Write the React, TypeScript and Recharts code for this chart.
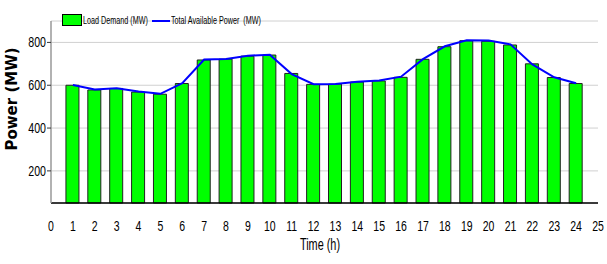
import React from "react";
import { ComposedChart, Bar, Line, XAxis, YAxis, CartesianGrid, Legend } from "recharts";

const hours = [1, 2, 3, 4, 5, 6, 7, 8, 9, 10, 11, 12, 13, 14, 15, 16, 17, 18, 19, 20, 21, 22, 23, 24];
const loadDemand = [600, 578, 585, 568, 558, 608, 718, 722, 736, 741, 655, 604, 605, 615, 620, 637, 721, 780, 808, 805, 788, 700, 636, 608];
const totalPower = [601, 580, 586, 571, 560, 610, 720, 723, 738, 742, 652, 605, 606, 616, 622, 640, 722, 782, 810, 809, 791, 697, 637, 609];
const xTicks = [0, 1, 2, 3, 4, 5, 6, 7, 8, 9, 10, 11, 12, 13, 14, 15, 16, 17, 18, 19, 20, 21, 22, 23, 24, 25];
const yTicks = [200, 400, 600, 800];

const data = hours.map((h, i) => ({ hour: h, load: loadDemand[i], total: totalPower[i] }));

const FONT = "'Liberation Sans', Arial, sans-serif";

const XTick = (props: any) => {
  const { x, y, payload } = props;
  return (
    <text
      transform={`translate(${x},${y + 20}) scale(0.75,1)`}
      textAnchor="middle"
      fontFamily={FONT}
      fontSize={14}
      fill="#000"
    >
      {payload.value}
    </text>
  );
};

const YTick = (props: any) => {
  const { x, y, payload } = props;
  return (
    <text
      transform={`translate(${x + 1},${y + 5}) scale(0.76,1)`}
      textAnchor="end"
      fontFamily={FONT}
      fontSize={14}
      fill="#000"
    >
      {payload.value}
    </text>
  );
};

const Condensed = ({ w, text, scale }: { w: number; text: string; scale: number }) => (
  <div style={{ width: w, overflow: "visible", whiteSpace: "nowrap" }}>
    <span style={{ display: "inline-block", transform: `scaleX(${scale})`, transformOrigin: "left center" }}>{text}</span>
  </div>
);

const LegendContent = () => (
  <div style={{ position: "relative", width: 210, height: 12, fontFamily: FONT, fontSize: 10, color: "#000", lineHeight: "12px" }}>
    <div style={{ position: "absolute", left: 0, top: 0, width: 18, height: 10, background: "#00ff00", border: "1px solid #000" }} />
    <div style={{ position: "absolute", left: 21, top: 1 }}>
      <Condensed w={66} text="Load Demand (MW)" scale={0.72} />
    </div>
    <div style={{ position: "absolute", left: 90, top: 6, width: 18, height: 2, background: "#0000ff" }} />
    <div style={{ position: "absolute", left: 109, top: 1 }}>
      <Condensed w={92} text={"Total Available Power\u00a0\u00a0(MW)"} scale={0.72} />
    </div>
  </div>
);

export default function App() {
  return (
    <div style={{ position: "absolute", left: 0, top: 0, background: "#fff" }}>
      <ComposedChart width={607} height={264} data={data} margin={{ top: 9, right: 9, left: 0, bottom: 21 }}>
        <CartesianGrid vertical={false} stroke="#d0d0d0" />
        <XAxis
          type="number"
          dataKey="hour"
          domain={[0, 25]}
          ticks={xTicks}
          interval={0}
          tickLine={false}
          axisLine={{ stroke: "#000", strokeWidth: 1.5 }}
          tick={<XTick />}
          height={40}
          label={{
            content: () => (
              <text transform="translate(320,250) scale(0.68,1)" textAnchor="middle" fontFamily={FONT} fontSize={16} fill="#000">
                Time (h)
              </text>
            ),
          }}
        />
        <YAxis
          domain={[50, 900]}
          ticks={yTicks}
          width={51}
          tickSize={4}
          tickLine={{ stroke: "#333" }}
          axisLine={{ stroke: "#999", strokeWidth: 1.5 }}
          tick={<YTick />}
          label={{
            content: () => (
              <text
                x={12}
                y={99}
                transform="rotate(-90 12 99)"
                textAnchor="middle"
                dominantBaseline="central"
                fontFamily="'DejaVu Sans', sans-serif"
                fontWeight="bold"
                fontSize={15}
                fill="#000"
              >
                Power (MW)
              </text>
            ),
          }}
        />
        <Legend
          verticalAlign="top"
          align="left"
          content={<LegendContent />}
          wrapperStyle={{ top: 14, left: 62, width: 210 }}
        />
        <Bar dataKey="load" fill="#00ff00" stroke="#222" strokeWidth={1} barSize={13} isAnimationActive={false} />
        <Line dataKey="total" type="linear" stroke="#0000ff" strokeWidth={2} dot={false} isAnimationActive={false} />
      </ComposedChart>
    </div>
  );
}
